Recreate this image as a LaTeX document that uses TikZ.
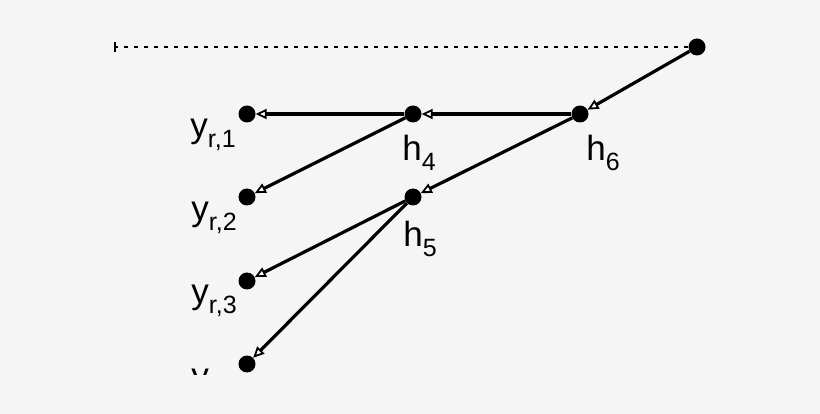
\documentclass[tikz,border=0pt]{standalone}
\usepackage{fontspec}
\setmainfont{Liberation Sans}
\usetikzlibrary{arrows.meta}
\definecolor{bg}{HTML}{F5F5F5}
\tikzstyle{nd}=[shape=circle,
                fill=black,
                inner sep=0pt,
                minimum size=17pt]
\tikzstyle{lb}=[anchor=base,
                inner sep=0pt,
                font=\fontsize{35}{40}\selectfont]
\tikzstyle{ln}=[line width=3.2pt,
                -{Triangle[length=11pt,width=10pt,fill=white,line width=1.8pt]}]
\newcommand{\lsub}[2]{#1\raisebox{-10pt}{\fontsize{25}{28}\selectfont #2}}
\begin{document}
\begin{tikzpicture}[x=1pt,y=-1pt]

\fill[bg] (0,0) rectangle (820,414);
\useasboundingbox (0,0) rectangle (820,414);

% root and hidden units
\node[nd] (r) at (697, 47) {};
\node[nd] (h6) at (580, 114) {};
\node[nd] (h4) at (413, 114) {};
\node[nd] (h5) at (413, 197) {};

% observed outputs
\node[nd] (y1) at (247, 114) {};
\node[nd] (y2) at (247, 197) {};
\node[nd] (y3) at (247, 281) {};
\node[nd] (y4) at (247, 364) {};

% labels
\node[lb] (l6) at (603, 161) {\lsub{h}{6}};
\node[lb] (l4) at (419, 161) {\lsub{h}{4}};
\node[lb] (l5) at (420, 247) {\lsub{h}{5}};
\node[lb] (m1) at (213, 138) {\lsub{y}{r,1}};
\node[lb] (m2) at (214, 221) {\lsub{y}{r,2}};
\node[lb] (m3) at (214, 304) {\lsub{y}{r,3}};
\begin{scope}
\clip (0,0) rectangle (820,374);
\node[lb] (m4) at (214, 388) {\lsub{y}{r,4}};
\end{scope}

% dashed line
\coordinate (tk) at (114, 47);
\draw[line width=2.6pt, dash pattern=on 4pt off 6pt, -{Bar[width=10pt,line width=1.6pt]}] (r) -- (tk);

% paths
\path[ln] (r) edge (h6)
          (h6) edge (h4)
          (h6) edge (h5)
          (h4) edge (y1)
          (h4) edge (y2)
          (h5) edge (y3)
          (h5) edge (y4);
\end{tikzpicture}
\end{document}
